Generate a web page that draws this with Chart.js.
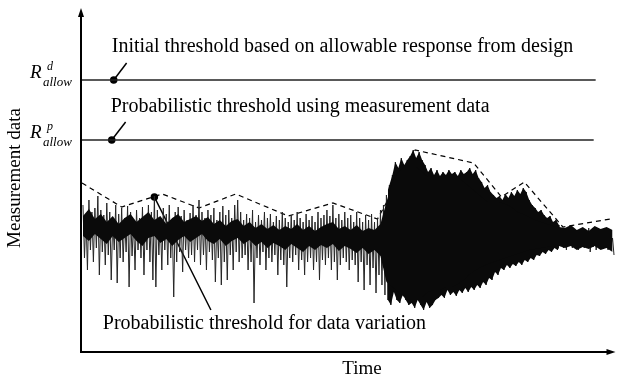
<!DOCTYPE html>
<html><head><meta charset="utf-8">
<script src="https://cdn.jsdelivr.net/npm/chart.js@4/dist/chart.umd.min.js"></script>
<style>html,body{margin:0;padding:0;background:#fff}canvas{display:block}</style>
</head><body>
<canvas id="c" width="621" height="382"></canvas>
<script>
// ---- data (time units, response units) ----
const sampleStart = 2, sampleStep = 3;
const sigHi = [147,137,152,140,144,156,142,137,149,140,132,147,138,144,134,146,140,130,142,134,145,137,147,140,156,142,134,144,138,147,132,140,145,136,142,132,139,147,137,152,140,134,142,137,144,132,140,146,137,142,134,147,152,140,132,138,134,142,130,137,132,140,134,138,130,136,132,140,134,130,137,132,140,134,130,138,132,136,130,140,134,137,142,136,147,134,138,132,140,134,137,130,140,134,130,137,132,138,130,134,142,
147,157,167,177,190,184,194,187,192,196,202,194,200,192,187,180,184,177,182,176,180,177,182,178,180,176,182,178,180,184,178,182,174,170,164,167,160,157,154,156,152,158,154,160,156,162,158,164,160,152,147,144,140,142,137,134,136,130,132,127,124,120,124,117,122,119,116,122,118,124,116,120,117,122,116,120,118,114];
const sigLo = [94,82,102,90,104,77,100,87,97,72,102,69,94,90,100,65,96,82,102,94,77,102,90,72,65,97,82,102,87,94,55,90,100,80,102,94,97,90,102,87,97,82,100,92,70,94,67,90,72,97,82,100,90,94,97,82,90,49,94,87,100,82,94,90,97,77,92,87,65,94,90,97,82,92,77,90,94,82,90,72,92,87,94,82,90,72,87,94,90,82,92,87,70,90,62,87,67,84,59,77,67,
57,52,47,60,52,49,57,52,47,49,44,52,47,42,50,44,47,52,54,57,54,62,57,60,56,62,59,64,60,65,62,67,64,70,67,74,72,80,77,84,82,87,84,88,86,90,87,92,90,94,92,97,96,100,98,102,100,104,102,106,104,102,107,104,106,102,107,104,106,100,105,102,107,104,106,102,107,97];
// dense core of the signal (every 6 time units)
const coreStep = 6;
const coreHi = [136,143,133,138,130,136,128,134,138,130,135,140,132,136,128,134,138,130,133,136,131,135,128,132,126,131,133,126,130,124,128,123,127,122,126,123,128,122,126,121,125,128,130,123,126,122,127,121,124,122,128,
150,170,180,185,185,185,180,175,175,175,175,175,175,170,165,160,155,150,150,150,148,145,140,138,135,132,130,128,126,125,
124,127,122,125,121,126,123,125,122];
const coreLo = [116,111,118,113,108,116,110,114,118,111,106,114,116,109,113,106,112,116,110,114,118,111,108,113,106,111,114,108,112,106,110,104,109,106,102,108,104,100,106,102,107,104,108,101,106,103,99,104,98,102,96,
70,65,60,55,55,55,55,60,62,62,65,65,68,72,78,82,85,88,90,92,94,96,98,100,102,103,104,105,106,106,
104,106,102,105,103,106,102,104,100];
const burstFrom = 306, burstTo = 482;
const varT = [1,41,82,119,156,209,254,299,337,396,424,447,486,534];
const varV = [169,145,158,144,158,136,149,133,202,189,155,170,125,133];
const designT = [0,519], designV = [272,272];
const probT = [0,517], probV = [212,212];
const labels = {
  design: "Initial threshold based on allowable response from design",
  prob: "Probabilistic threshold using measurement data",
  vari: "Probabilistic threshold for data variation",
  yTitle: "Measurement data", xTitle: "Time"
};
const callDesign = [[33,272],[46,289]];
const callProb = [[31,212],[45,230]];
const callVar = [[74,155],[131,42]];
const noteAnchors = [[labels.design,31,305],[labels.prob,30,245],[labels.vari,22,28]];

// ---- build datasets ----
const sig = [];
sigHi.forEach((h,i)=>{ const t=sampleStart+i*sampleStep; sig.push({x:t,y:h}); sig.push({x:t+sampleStep/2,y:sigLo[i]}); });
const bHi=[], bLo=[];
sigHi.forEach((h,i)=>{ const t=sampleStart+i*sampleStep; if(t>=burstFrom&&t<=burstTo){ bHi.push({x:t,y:h}); bLo.push({x:t+sampleStep/2,y:sigLo[i]}); }});
const cHi=coreHi.map((v,i)=>({x:sampleStart+i*coreStep,y:v}));
const cLo=coreLo.map((v,i)=>({x:sampleStart+i*coreStep,y:v}));
const pts=(T,V)=>T.map((t,i)=>({x:t,y:V[i]}));
const pp=a=>a.map(p=>({x:p[0],y:p[1]}));
const base={pointRadius:0,tension:0,fill:false,borderColor:'#000'};

const serif='"Liberation Serif","DejaVu Serif",serif';
const deco={id:'deco',afterDraw(ch){
  const c=ch.ctx,a=ch.chartArea,xs=ch.scales.x,ys=ch.scales.y;
  c.save();
  c.strokeStyle='#000';c.fillStyle='#000';c.lineWidth=2;
  c.beginPath();c.moveTo(a.left,a.top+4);c.lineTo(a.left,a.bottom);c.lineTo(a.right-4,a.bottom);c.stroke();
  c.beginPath();c.moveTo(a.left,a.top);c.lineTo(a.left-3,a.top+9);c.lineTo(a.left+3,a.top+9);c.closePath();c.fill();
  c.beginPath();c.moveTo(a.right,a.bottom);c.lineTo(a.right-9,a.bottom-3);c.lineTo(a.right-9,a.bottom+3);c.closePath();c.fill();
  c.textBaseline='middle';c.textAlign='left';c.font='20px '+serif;
  noteAnchors.forEach(n=>c.fillText(n[0],xs.getPixelForValue(n[1]),ys.getPixelForValue(n[2])));
  // R labels
  [[designV[0],'d'],[probV[0],'p']].forEach(r=>{
    const y=ys.getPixelForValue(r[0]);
    c.textBaseline='alphabetic';c.textAlign='left';
    c.font='italic 19px '+serif;c.fillText('R',a.left-51,y-2);
    c.font='italic 12px '+serif;c.fillText(r[1],a.left-34,y-10);
    c.font='italic 13px '+serif;c.fillText('allow',a.left-38,y+6);
  });
  c.font='19px '+serif;c.textAlign='center';c.textBaseline='middle';
  c.fillText(labels.xTitle,a.left+281,a.bottom+17);
  c.translate(15,(a.top+a.bottom)/2-2);c.rotate(-Math.PI/2);c.fillText(labels.yTitle,0,0);
  c.restore();
}};

new Chart(document.getElementById('c'),{
  type:'line',
  data:{datasets:[
    Object.assign({},base,{data:cHi,borderWidth:0}),
    Object.assign({},base,{data:cLo,borderWidth:0,fill:'-1',backgroundColor:'#0a0a0a'}),
    Object.assign({},base,{data:bHi,borderWidth:0}),
    Object.assign({},base,{data:bLo,borderWidth:0,fill:'-1',backgroundColor:'#0a0a0a'}),
    Object.assign({},base,{data:sig,borderWidth:1,borderColor:'#262626'}),
    Object.assign({},base,{data:pts(varT,varV),borderWidth:1.2,borderDash:[5,4]}),
    Object.assign({},base,{data:pts(designT,designV),borderWidth:1.5,borderColor:'#222'}),
    Object.assign({},base,{data:pts(probT,probV),borderWidth:1.5,borderColor:'#222'}),
    Object.assign({},base,{data:pp(callDesign),borderWidth:1.5,pointRadius:[3,0],pointBackgroundColor:'#000'}),
    Object.assign({},base,{data:pp(callProb),borderWidth:1.5,pointRadius:[3,0],pointBackgroundColor:'#000'}),
    Object.assign({},base,{data:pp(callVar),borderWidth:1.5,pointRadius:[3,0],pointBackgroundColor:'#000'})
  ]},
  options:{responsive:false,animation:false,devicePixelRatio:1,
    layout:{padding:{left:81,top:8,right:1,bottom:30}},
    plugins:{legend:{display:false},tooltip:{enabled:false}},
    scales:{x:{type:'linear',min:0,max:539,display:false},y:{min:0,max:344,display:false}}
  },
  plugins:[deco]
});
</script>
</body></html>
